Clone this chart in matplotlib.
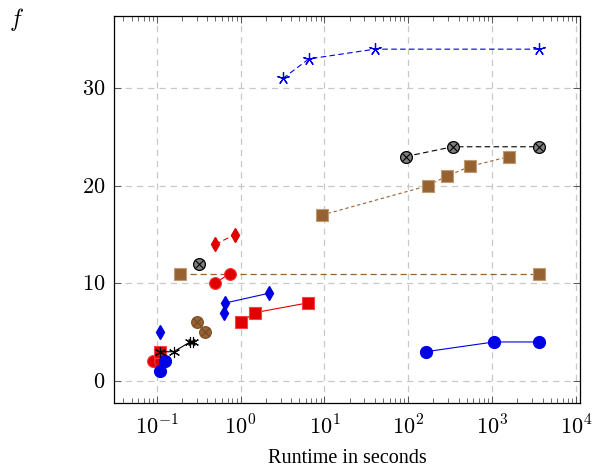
import numpy as np
import matplotlib
matplotlib.use("Agg")
import matplotlib.pyplot as plt

plt.rcParams.update({
    "mathtext.fontset": "cm",
    "font.family": "Liberation Serif",
    "axes.linewidth": 0.9,
})

# ---- data (runtime in seconds, f) ----
blue_star_t = [3.2, 6.5, 40, 3600]
blue_star_f = [31, 33, 34, 34]

gray_ot_t = [93, 340, 3600]
gray_ot_f = [23, 24, 24]
gray_ot_single_t = [0.32]
gray_ot_single_f = [12]

brown_sq_t = [9.3, 170, 290, 550, 1600]
brown_sq_f = [17, 20, 21, 22, 23]
brown_sq2_t = [0.19, 3600]
brown_sq2_f = [11, 11]

red_dia_t = [0.50, 0.85]
red_dia_f = [14, 15]

red_circ_t = [0.49, 0.74]
red_circ_f = [10, 11]
red_circ2_t = [0.091, 0.108]
red_circ2_f = [2, 2]

blue_dia_t = [0.66, 2.2]
blue_dia_f = [8, 9]
blue_dia2_t = [0.64, 0.108]
blue_dia2_f = [7, 5]

red_sq_t = [1.0, 1.47, 6.3]
red_sq_f = [6, 7, 8]
red_sq2_t = [0.108]
red_sq2_f = [3]

brown_ot_t = [0.30, 0.38]
brown_ot_f = [6, 5]

black_ast_t = [0.108, 0.159, 0.25, 0.268]
black_ast_f = [3, 3, 4, 4]

blue_circ_t = [161, 1050, 3600]
blue_circ_f = [3, 4, 4]
blue_circ2_t = [0.108, 0.127]
blue_circ2_f = [1, 2]

BLUE = "#0000e6"
RED = "#e00000"
BROWN = "#976232"

fig = plt.figure(figsize=(5.95, 4.70), dpi=100)
ax = fig.add_axes([0.1916, 0.1426, 0.7834, 0.8234])
ax.set_xscale("log")
ax.set_xlim(10 ** -1.51, 10 ** 4.05)
ax.set_ylim(-2.25, 37.4)

ax.grid(True, which="major", linestyle=(0, (5, 4)), color="#c8c8c8", lw=0.9)
ax.set_axisbelow(True)

ms = 8.5
dms = 7
# blue stars, dashed
ax.plot(blue_star_t, blue_star_f, color=BLUE, ls=(0, (5, 3)), lw=0.8,
        marker=(5, 2, 0), ms=9, mew=0.9)
# gray otimes, dashed
for t, f, ls in [(gray_ot_t, gray_ot_f, (0, (5, 3))), (gray_ot_single_t, gray_ot_single_f, "none")]:
    ax.plot(t, f, color="black", ls=ls, lw=0.8, marker="o", ms=ms,
            mfc="#7f7f7f", mec="black", mew=0.9)
    ax.plot(t, f, ls="none", marker="x", ms=5.5, color="black", mew=0.8)
# brown squares
ax.plot(brown_sq_t, brown_sq_f, color=BROWN, ls=(0, (3, 2.5)), lw=0.8,
        marker="s", ms=ms, mfc=BROWN, mec="#c09a70", mew=0.8)
ax.plot(brown_sq2_t, brown_sq2_f, color=BROWN, ls=(0, (5, 3)), lw=0.9,
        marker="s", ms=ms, mfc=BROWN, mec="#c09a70", mew=0.8)
# red diamonds
ax.plot(red_dia_t, red_dia_f, color=RED, ls=(0, (5, 3)), lw=0.8,
        marker="d", ms=dms, mfc=RED, mec=RED)
# red circles
ax.plot(red_circ_t, red_circ_f, color=RED, lw=0.8, marker="o", ms=ms,
        mfc=RED, mec="#ff3030", mew=0.8)
ax.plot(red_circ2_t, red_circ2_f, color=RED, ls="none", marker="o", ms=ms,
        mfc=RED, mec="#ff3030", mew=0.8)
# blue diamonds
ax.plot(blue_dia_t, blue_dia_f, color=BLUE, lw=0.8, marker="d", ms=dms,
        mfc=BLUE, mec=BLUE)
ax.plot(blue_dia2_t, blue_dia2_f, color=BLUE, ls="none", marker="d", ms=dms,
        mfc=BLUE, mec=BLUE)
# red squares
ax.plot(red_sq_t, red_sq_f, color=RED, lw=0.8, marker="s", ms=ms,
        mfc=RED, mec="#ff4040", mew=0.8)
ax.plot(red_sq2_t, red_sq2_f, color=RED, ls="none", marker="s", ms=ms,
        mfc=RED, mec="#ff4040", mew=0.8)
# brown otimes
ax.plot(brown_ot_t, brown_ot_f, ls="none", marker="o", ms=ms,
        mfc=BROWN, mec="#7a4f26", mew=0.8)
ax.plot(brown_ot_t, brown_ot_f, ls="none", marker="x", ms=5.5,
        color="#6b4420", mew=0.7)
# blue circles
ax.plot(blue_circ_t, blue_circ_f, color=BLUE, lw=0.8, marker="o", ms=ms,
        mfc=BLUE, mec=BLUE)
ax.plot(blue_circ2_t, blue_circ2_f, color=BLUE, ls="none", marker="o", ms=ms,
        mfc=BLUE, mec=BLUE)
# black asterisks
ax.plot(black_ast_t, black_ast_f, color="black", lw=0.8, marker=(6, 2, 0),
        ms=8, mew=0.8)

# ticks
ax.set_yticks([0, 10, 20, 30])
ax.set_yticklabels([r"$%d$" % v for v in [0, 10, 20, 30]])
ax.set_xticks([10.0 ** k for k in range(-1, 5)])
ax.set_xticklabels([r"$10^{%d}$" % k for k in range(-1, 5)])
ax.tick_params(which="both", direction="in", top=True, right=True,
               labelsize=16, color="#555555")
ax.tick_params(which="major", length=5, width=0.7)
ax.tick_params(which="minor", length=3.5, width=0.6)
ax.tick_params(axis="x", pad=9)
ax.tick_params(axis="y", pad=6)

ax.set_xlabel("Runtime in seconds", fontsize=14.5, labelpad=7)
fig.text(0.015, 0.958, r"$f$", fontsize=17, ha="left", va="center")

fig.savefig("out.png", dpi=100)
